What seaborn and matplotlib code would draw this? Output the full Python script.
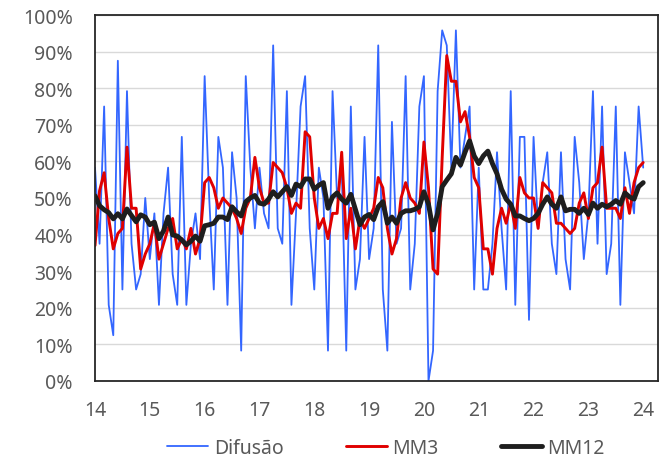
import numpy as np
import pandas as pd
import matplotlib
matplotlib.use("Agg")
import matplotlib.pyplot as plt
import seaborn as sns
from matplotlib.ticker import PercentFormatter, MultipleLocator

# monthly series, Jan/2014 .. Jan/2024 (values in %)
difusao = [
    58.3, 37.5, 75.0, 20.8, 12.5, 87.5, 25.0, 79.2, 37.5, 25.0, 29.2, 50.0,
    33.3, 45.8, 20.8, 45.8, 58.3, 29.2, 20.8, 66.7, 20.8, 37.5, 45.8, 33.3,
    83.3, 50.0, 25.0, 66.7, 58.3, 20.8, 62.5, 50.0, 8.3, 83.3, 58.3, 41.7,
    58.3, 45.8, 41.7, 91.7, 41.7, 37.5, 79.2, 20.8, 45.8, 75.0, 83.3, 41.7,
    25.0, 58.3, 50.0, 8.3, 79.2, 50.0, 58.3, 8.3, 75.0, 25.0, 33.3, 66.7,
    33.3, 41.7, 91.7, 25.0, 8.3, 70.8, 37.5, 41.7, 83.3, 25.0, 37.5, 75.0,
    83.3, 0.0, 8.3, 79.2, 95.8, 91.7, 58.3, 95.8, 58.3, 66.7, 75.0, 25.0,
    58.3, 25.0, 25.0, 37.5, 62.5, 41.7, 25.0, 79.2, 20.8, 66.7, 66.7, 16.7,
    66.7, 41.7, 54.2, 62.5, 37.5, 29.2, 62.5, 33.3, 25.0, 66.7, 54.2, 33.3,
    45.8, 79.2, 37.5, 75.0, 29.2, 37.5, 75.0, 20.8, 62.5, 54.2, 45.8, 75.0,
    58.3,
]
mm3 = [
    37.0, 52.0, 56.9, 44.4, 36.1, 40.3, 41.7, 63.9, 47.2, 47.2, 30.6, 34.7,
    37.5, 43.1, 33.3, 37.5, 41.7, 44.4, 36.1, 38.9, 36.1, 41.7, 34.7, 38.9,
    54.2, 55.6, 52.8, 47.2, 50.0, 48.6, 47.2, 44.4, 40.3, 47.2, 50.0, 61.1,
    52.8, 48.6, 48.6, 59.7, 58.3, 56.9, 52.8, 45.8, 48.6, 47.2, 68.1, 66.7,
    50.0, 41.7, 44.4, 38.9, 45.8, 45.8, 62.5, 38.9, 47.2, 36.1, 44.4, 41.7,
    44.4, 47.2, 55.6, 52.8, 41.7, 34.7, 38.9, 50.0, 54.2, 50.0, 48.6, 45.8,
    65.3, 52.8, 30.6, 29.2, 61.1, 88.9, 81.9, 81.9, 70.8, 73.6, 66.7, 55.6,
    52.8, 36.1, 36.1, 29.2, 41.7, 47.2, 43.1, 48.6, 41.7, 55.6, 51.4, 50.0,
    50.0, 41.7, 54.2, 52.8, 51.4, 43.1, 43.1, 41.7, 40.3, 41.7, 48.6, 51.4,
    44.4, 52.8, 54.2, 63.9, 47.2, 47.2, 47.2, 44.4, 52.8, 45.8, 54.2, 58.3,
    59.7,
]
mm12 = [
    50.6, 47.9, 46.8, 46.0, 44.3, 45.7, 44.3, 47.0, 45.2, 43.5, 45.4, 44.8,
    42.7, 43.4, 38.9, 41.0, 44.8, 39.9, 39.6, 38.5, 37.2, 38.2, 39.6, 38.2,
    42.4, 42.7, 43.1, 44.8, 44.8, 44.1, 47.6, 46.2, 45.1, 49.0, 50.0, 50.7,
    48.6, 48.3, 49.7, 51.7, 50.3, 51.7, 53.1, 50.7, 53.8, 53.1, 55.2, 55.2,
    52.4, 53.5, 54.2, 47.2, 50.3, 51.4, 49.7, 48.6, 51.0, 46.9, 42.7, 44.8,
    45.5, 44.1, 47.6, 49.0, 43.1, 44.8, 43.1, 45.8, 46.5, 46.5, 46.9, 47.6,
    51.7, 48.3, 41.3, 45.8, 53.1, 54.9, 56.6, 61.1, 59.0, 62.5, 65.6, 61.5,
    59.4, 61.5, 62.8, 59.4, 56.6, 52.4, 49.7, 48.3, 45.1, 45.1, 44.4, 43.8,
    44.4, 45.8, 48.3, 50.3, 48.3, 47.2, 50.3, 46.5, 46.9, 46.9, 45.8, 47.2,
    45.5, 48.6, 47.2, 48.3, 47.6, 48.3, 49.3, 48.3, 51.4, 50.3, 49.7, 53.1,
    54.2,
]
anos = list(range(14, 25))
series = ["Difusão", "MM3", "MM12"]
cores = {"Difusão": "#3366ff", "MM3": "#e00000", "MM12": "#1e1e1e"}
larguras = {"Difusão": 1.3, "MM3": 2.1, "MM12": 3.5}

t = 14 + np.arange(len(difusao)) / 12
df = pd.DataFrame({"t": t, "Difusão": difusao, "MM3": mm3, "MM12": mm12})
longo = df.melt(id_vars="t", var_name="serie", value_name="valor")

sns.set_style("white")
plt.rcParams["font.family"] = ["Noto Sans", "DejaVu Sans"]
cinza = "#595959"

fig = plt.figure(figsize=(6.67, 4.64), dpi=100)
ax = fig.add_axes([95 / 667, 1 - 382 / 464, (658 - 95) / 667, (382 - 16) / 464])

sns.lineplot(data=longo, x="t", y="valor", hue="serie", hue_order=series,
             palette=cores, size="serie", sizes=larguras, size_order=series,
             ax=ax, legend=False)

ax.set_xlim(14, 24.27)
ax.set_ylim(0, 100)
ax.set_xticks(anos)
ax.set_xticklabels([str(a) for a in anos])
ax.yaxis.set_major_locator(MultipleLocator(10))
ax.yaxis.set_major_formatter(PercentFormatter(decimals=0))
ax.grid(axis="y", color="#d9d9d9", lw=1.0)
ax.set_axisbelow(True)
ax.set_xlabel("")
ax.set_ylabel("")
for lado, sp in ax.spines.items():
    sp.set_color("#262626")
    sp.set_linewidth(1.3)
ax.tick_params(axis="x", direction="out", length=6, width=1.2, color="#262626",
               labelsize=14, labelcolor=cinza, pad=8)
ax.tick_params(axis="y", length=0, labelsize=14, labelcolor=cinza, pad=16)

handles = [plt.Line2D([], [], color=cores[s], lw=larguras[s]) for s in series]
fig.legend(handles, series, loc="center", bbox_to_anchor=(386 / 667, 1 - 449 / 464),
           ncol=3, frameon=False, fontsize=14, labelcolor=cinza,
           handlelength=2.1, handletextpad=0.3, columnspacing=3.2)

fig.savefig("out.png", dpi=100)
